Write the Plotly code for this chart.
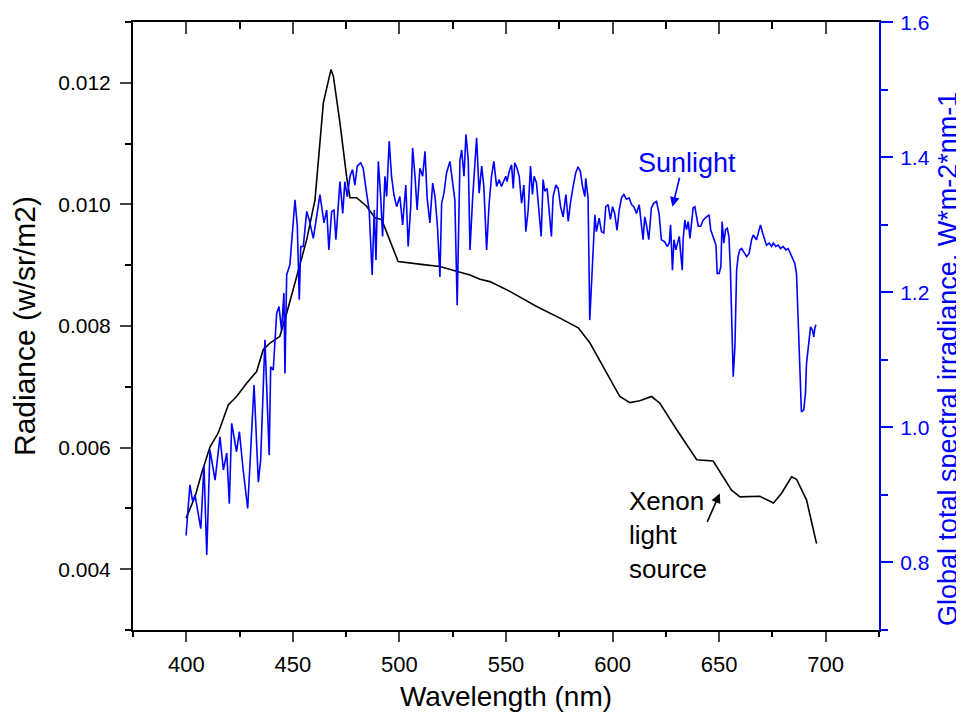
import plotly.graph_objects as go

# Xenon light source (left axis, radiance w/sr/m2)
xenon_nm = [399.9, 401.7, 404.1, 407.2, 411.1, 415.0, 419.7, 423.6, 428.3, 433.0,
            436.1, 439.3, 443.9, 447.1, 453.3, 456.5, 460.4, 464.3, 467.9, 469.0,
            472.1, 475.2, 476.8, 479.9, 484.6, 488.5, 491.7, 494.7, 499.4, 511.2,
            519.0, 526.8, 533.1, 537.8, 542.4, 551.8, 564.4, 575.3, 583.9, 589.4,
            597.2, 603.4, 608.1, 612.8, 618.3, 622.2, 630.2, 639.5, 647.2, 655.8,
            659.8, 669.1, 675.5, 679.3, 684.0, 686.3, 691.0, 695.7]
xenon_rad = [0.00484, 0.00500, 0.00519, 0.00558, 0.00601, 0.00624, 0.00670, 0.00684, 0.00706, 0.00725,
             0.00761, 0.00772, 0.00783, 0.00821, 0.00898, 0.00942, 0.01008, 0.01167, 0.01222, 0.01211,
             0.01134, 0.01046, 0.01011, 0.01011, 0.00997, 0.00978, 0.00975, 0.00947, 0.00906, 0.00901,
             0.00898, 0.00890, 0.00884, 0.00877, 0.00873, 0.00857, 0.00832, 0.00813, 0.00797, 0.00772,
             0.00722, 0.00684, 0.00674, 0.00677, 0.00684, 0.00673, 0.00629, 0.00580, 0.00578, 0.00530,
             0.00519, 0.00520, 0.00509, 0.00525, 0.00552, 0.00548, 0.00514, 0.00442]

# Sunlight (right axis, global total spectral irradiance)
sun_nm = [399.9, 401.7, 403.0, 404.1, 406.8, 408.3, 409.6, 411.1, 413.5, 415.8,
          417.4, 419.0, 420.2, 421.3, 423.6, 424.9, 426.7, 428.8, 429.9, 431.8,
          433.8, 434.9, 436.9, 438.9, 439.6, 440.8, 442.4, 443.5, 444.7, 445.8,
          446.3, 447.1, 448.6, 451.0, 452.1, 453.0, 453.7, 454.9, 456.5, 457.7,
          459.6, 462.7, 464.6, 465.9, 466.9, 468.2, 469.3, 470.2, 472.1,
          473.4, 474.4, 475.5, 476.8, 478.0, 479.1, 480.2, 481.8, 483.0, 484.6,
          485.8, 487.2, 488.2, 489.0, 490.1, 491.2, 492.1, 493.2, 494.0, 495.2,
          496.3, 497.4, 498.7, 500.2, 501.5, 503.0, 504.1, 505.3, 506.2, 507.3,
          508.3, 509.6, 510.9, 512.0, 513.0, 514.3, 515.6, 516.7, 517.9, 519.0,
          519.8, 520.9, 522.1, 523.7, 525.2, 526.0, 527.1, 528.4, 529.2, 530.3,
          531.2, 532.3, 533.1, 534.3, 536.2, 537.4, 538.6, 539.6, 540.9, 542.1,
          543.2, 544.3, 545.6, 546.8, 547.9,
          549.9, 550.5, 551.5, 552.6, 553.4, 554.1, 555.2, 556.2, 557.3, 558.4,
          559.3, 560.4, 561.5, 562.4, 563.2, 564.3, 565.5, 566.5, 567.4, 568.2,
          569.3, 570.2, 571.3, 572.1, 573.4, 574.5, 575.6, 576.8, 578.1, 579.2,
          580.2, 581.5, 582.7, 583.8, 584.9, 585.9, 587.0, 587.4, 588.5, 589.3,
          590.6, 591.7, 592.4, 593.7, 594.8, 595.9, 596.8, 597.9, 599.0, 600.0,
          601.0, 602.1, 603.1, 604.2, 605.3, 606.5, 607.8, 608.9, 610.0, 611.2,
          612.5, 613.5, 614.3, 615.1, 615.9, 617.0, 618.2, 619.3, 620.6, 621.8,
          622.9, 624.5,
          625.6, 626.6, 627.2, 628.1, 628.8, 629.7, 630.3, 631.3, 631.9, 632.7,
          633.1, 633.9, 634.7, 635.5, 636.3, 637.1, 637.8, 638.6, 639.4, 640.2,
          641.3, 642.5, 644.1, 645.3, 646.0, 647.2, 648.5, 649.1, 650.0, 650.8,
          651.4, 652.2, 653.0, 653.8, 654.6, 655.3, 656.1, 656.6, 657.4, 658.2,
          658.9, 659.7, 660.5, 661.6, 662.9, 664.1, 665.2, 666.0, 667.5, 668.8,
          669.4, 670.4, 671.4, 672.2, 673.5, 674.6, 675.4, 676.6, 677.7, 678.8,
          680.0, 681.3, 682.4, 683.5, 684.4, 685.5, 686.3, 687.1, 687.9, 688.6,
          689.7, 690.5, 691.0, 691.8, 692.9, 693.8, 694.4, 694.9, 695.4]
sun_irr = [0.840, 0.915, 0.890, 0.900, 0.850, 0.944, 0.811, 0.967, 0.922, 0.986,
           0.937, 0.962, 0.887, 1.006, 0.964, 0.994, 0.937, 0.880, 0.947, 1.063,
           0.919, 0.952, 1.130, 0.959, 1.090, 1.085, 1.169, 1.179, 1.144, 1.199,
           1.080, 1.226, 1.241, 1.337, 1.298, 1.189, 1.268, 1.268, 1.320, 1.307,
           1.280, 1.345, 1.303, 1.322, 1.263, 1.320, 1.322, 1.278, 1.364,
           1.317, 1.364, 1.342, 1.372, 1.382, 1.359, 1.387, 1.392, 1.384, 1.347,
           1.322, 1.226, 1.322, 1.248, 1.394, 1.342, 1.283, 1.372, 1.342, 1.424,
           1.372, 1.345, 1.327, 1.342, 1.300, 1.359, 1.268, 1.327, 1.414, 1.372,
           1.322, 1.384, 1.372, 1.409, 1.340, 1.303, 1.362, 1.342, 1.295, 1.223,
           1.332, 1.347, 1.377, 1.394, 1.352, 1.337, 1.181, 1.396, 1.411, 1.372,
           1.434, 1.396, 1.263, 1.337, 1.429, 1.347, 1.387, 1.357, 1.263, 1.332,
           1.372, 1.394, 1.357, 1.367, 1.357,
           1.372, 1.364, 1.379, 1.389, 1.354, 1.392, 1.384, 1.372, 1.332, 1.359,
           1.290, 1.322, 1.387, 1.345, 1.372, 1.362, 1.322, 1.283, 1.367, 1.350,
           1.354, 1.322, 1.283, 1.342, 1.359, 1.354, 1.327, 1.312, 1.345, 1.305,
           1.332, 1.357, 1.377, 1.386, 1.379, 1.357, 1.342, 1.369, 1.340, 1.159,
           1.233, 1.315, 1.290, 1.310, 1.290, 1.288, 1.327, 1.330, 1.308, 1.327,
           1.317, 1.292, 1.322, 1.340, 1.345, 1.338, 1.340, 1.330, 1.327, 1.317,
           1.330, 1.298, 1.278, 1.312, 1.300, 1.278, 1.325, 1.332, 1.335, 1.317,
           1.278, 1.275,
           1.268, 1.273, 1.300, 1.233, 1.278, 1.263, 1.270, 1.283, 1.260, 1.233,
           1.278, 1.307, 1.293, 1.305, 1.280, 1.307, 1.325, 1.327, 1.312, 1.298,
           1.298, 1.307, 1.312, 1.315, 1.293, 1.283, 1.270, 1.228, 1.228, 1.238,
           1.305, 1.273, 1.293, 1.295, 1.283, 1.233, 1.144, 1.075, 1.120, 1.233,
           1.253, 1.263, 1.265, 1.260, 1.253, 1.258, 1.278, 1.285, 1.278, 1.293,
           1.300, 1.288, 1.278, 1.270, 1.273, 1.268, 1.273, 1.268, 1.270, 1.265,
           1.268, 1.263, 1.265, 1.258, 1.251, 1.243, 1.228, 1.164, 1.085, 1.023,
           1.026, 1.051, 1.095, 1.120, 1.149, 1.144, 1.134, 1.147, 1.152]

x_tickvals = [400, 450, 500, 550, 600, 650, 700]
left_tickvals = [0.004, 0.006, 0.008, 0.010, 0.012]
left_ticktext = ["0.004", "0.006", "0.008", "0.010", "0.012"]
right_tickvals = [0.8, 1.0, 1.2, 1.4, 1.6]
right_ticktext = ["0.8", "1.0", "1.2", "1.4", "1.6"]

BLUE = "rgb(0,0,255)"
FONT = "Liberation Sans, Arial, sans-serif"

fig = go.Figure()
fig.add_trace(go.Scatter(x=xenon_nm, y=xenon_rad, mode="lines",
                         line=dict(color="black", width=1.6), xaxis="x", yaxis="y",
                         showlegend=False))
fig.add_trace(go.Scatter(x=sun_nm, y=sun_irr, mode="lines",
                         line=dict(color=BLUE, width=1.6), xaxis="x2", yaxis="y2",
                         showlegend=False))

# the page adds an 8px body margin, so the figure is sized/margined to compensate
fig.update_layout(
    width=956, height=705,
    margin=dict(l=125, r=85, t=14, b=83),
    paper_bgcolor="white", plot_bgcolor="white",
    font=dict(family=FONT, color="black"),
    xaxis=dict(range=[375, 725], tickvals=x_tickvals, ticks="outside", ticklen=10, tickwidth=2,
               showline=True, linecolor="black", linewidth=2, showgrid=False, zeroline=False,
               tickfont=dict(size=22), ticklabelstandoff=4, automargin=False,
               minor=dict(ticks="outside", dtick=25, tick0=375, ticklen=5, tickwidth=2, tickcolor="black"),
               title=dict(text="Wavelength (nm)", font=dict(size=28), standoff=10)),
    xaxis2=dict(range=[375, 725], overlaying="x", side="top", anchor="y",
                tickvals=x_tickvals, ticks="inside", ticklen=12, tickwidth=2, showticklabels=False,
                showline=True, linecolor="black", linewidth=2, showgrid=False, zeroline=False,
                automargin=False,
                minor=dict(ticks="inside", dtick=25, tick0=375, ticklen=7, tickwidth=2, tickcolor="black")),
    yaxis=dict(range=[0.003, 0.013], tickvals=left_tickvals, ticktext=left_ticktext,
               ticks="outside", ticklen=11, tickwidth=2,
               showline=True, linecolor="black", linewidth=2, showgrid=False, zeroline=False,
               tickfont=dict(size=21), ticklabelstandoff=5, automargin=False,
               minor=dict(ticks="outside", dtick=0.001, tick0=0.003, ticklen=6, tickwidth=2, tickcolor="black"),
               title=dict(text="Radiance (w/sr/m2)", font=dict(size=30), standoff=22)),
    yaxis2=dict(range=[0.7, 1.6005], overlaying="y", side="right", anchor="x",
                tickvals=right_tickvals, ticktext=right_ticktext,
                ticks="outside", ticklen=12, tickwidth=2, tickcolor=BLUE,
                showline=True, linecolor=BLUE, linewidth=2, showgrid=False, zeroline=False,
                tickfont=dict(size=21, color=BLUE), ticklabelstandoff=3, automargin=False,
                minor=dict(ticks="outside", dtick=0.1, tick0=0.7, ticklen=7, tickwidth=2, tickcolor=BLUE)),
)

# right axis title (placed explicitly so it sits where the original has it)
fig.add_annotation(x=(940 - 125) / 746, y=(622 - 351) / 608, xref="paper", yref="paper",
                   text="Global total spectral irradiance, W*m-2*nm-1", textangle=-90,
                   showarrow=False, xanchor="center", yanchor="middle",
                   font=dict(size=27, color=BLUE, family=FONT))

fig.add_annotation(x=635.1, y=1.392, xref="x", yref="y2", text="Sunlight", showarrow=False,
                   font=dict(size=27, color=BLUE, family=FONT), xanchor="center", yanchor="middle")
fig.add_annotation(x=628.1, y=1.327, xref="x", yref="y2", ax=631.6, ay=1.372,
                   axref="x", ayref="y2", text="", showarrow=True, arrowhead=2,
                   arrowsize=1.2, arrowwidth=1.6, arrowcolor=BLUE)
fig.add_annotation(x=606.7, y=0.00540, xref="x", yref="y", text="Xenon<br>light<br>source",
                   showarrow=False, align="left", xanchor="left", yanchor="top",
                   font=dict(size=26, color="black", family=FONT))
fig.add_annotation(x=650.3, y=0.005247, xref="x", yref="y", ax=644.1, ay=0.004753,
                   axref="x", ayref="y", text="", showarrow=True, arrowhead=2,
                   arrowsize=1.2, arrowwidth=1.6, arrowcolor="black")

fig.write_html("out.html")
